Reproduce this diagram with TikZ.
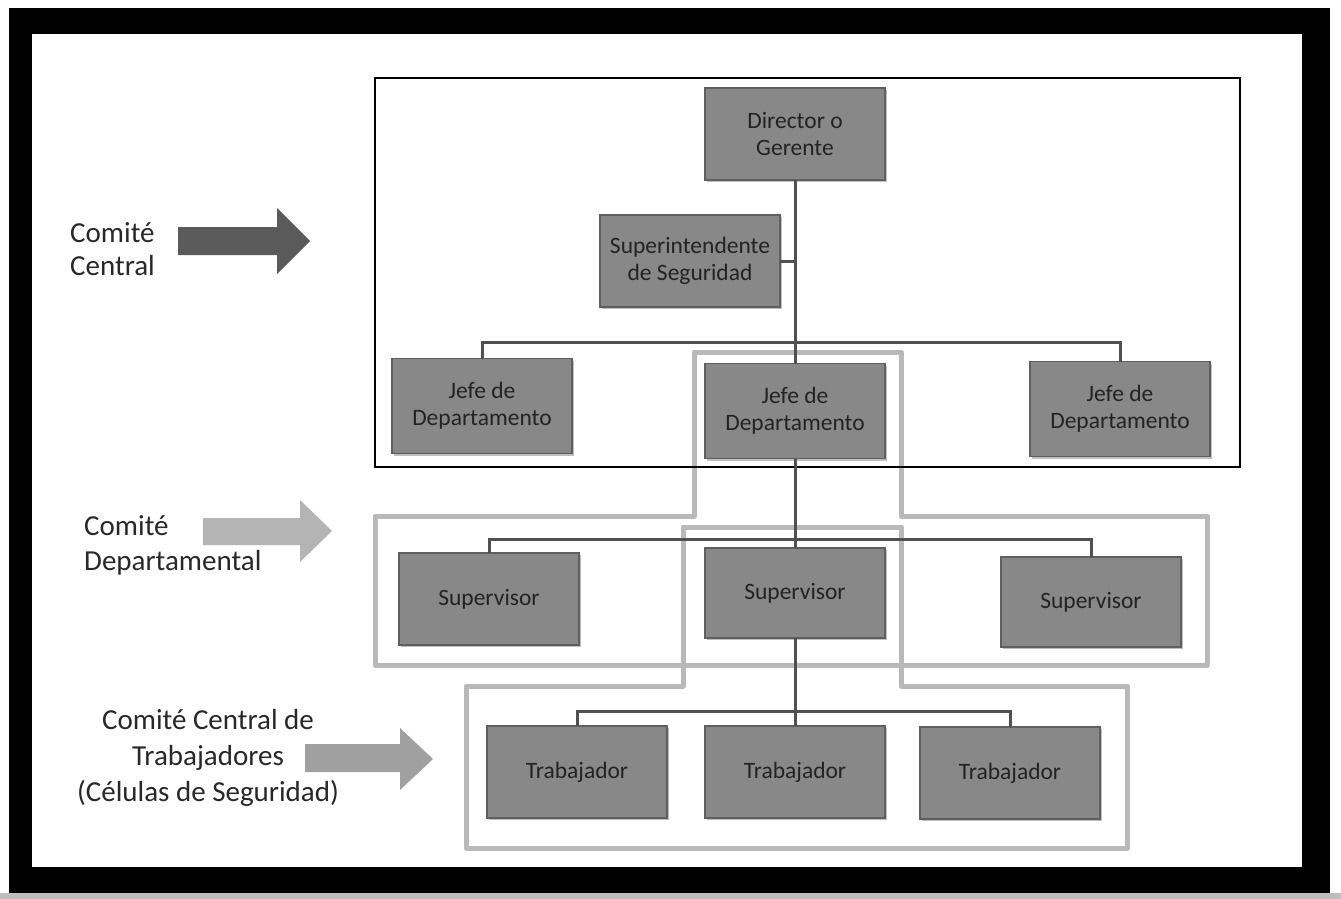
\documentclass[tikz,border=0pt]{standalone}
\usepackage{fontspec}
\setmainfont{Carlito}
\usetikzlibrary{shadows}
\definecolor{boxfill}{RGB}{136,136,136}
\definecolor{boxedge}{RGB}{95,95,95}
\definecolor{boxtext}{RGB}{35,35,35}
\definecolor{linkcol}{RGB}{80,80,80}
\definecolor{groupcol}{RGB}{185,185,185}
\definecolor{arrowA}{RGB}{90,90,90}
\definecolor{arrowB}{RGB}{180,180,180}
\definecolor{arrowC}{RGB}{160,160,160}
\definecolor{labeltext}{RGB}{40,40,40}
\definecolor{scanedge}{RGB}{190,190,190}
\begin{document}
\begin{tikzpicture}[x=1pt,y=-1pt,
  orgbox/.style={draw=boxedge, line width=1.2pt, fill=boxfill,
    minimum width=180pt, minimum height=92pt, inner sep=0pt, outer sep=0pt,
    align=center, font=\fontsize{23.5}{27}\selectfont, text=boxtext,
    drop shadow={shadow xshift=2pt, shadow yshift=-2pt, fill=black, opacity=.25}},
  link/.style={draw=linkcol, line width=3pt},
  comite/.style={draw=black, line width=2.5pt},
  grupo/.style={draw=groupcol, line width=5pt, line join=round},
  lbl/.style={text=labeltext, inner sep=0pt}]
\useasboundingbox (0,0) rectangle (1341,899);
% background and scanned frame
\fill[white] (0,0) rectangle (1341,899);
\fill[scanedge] (0,893) rectangle (1341,899);
\fill[black] (9,8) rectangle (1330,893);
\fill[white] (32,34) rectangle (1302,867);
% group outlines
\draw[grupo] (375,516) -- (694,516) -- (694,352) -- (901,352) -- (901,516)
  -- (1207,516) -- (1207,665) -- (375,665) -- cycle;
\draw[grupo] (466,686) -- (683,686) -- (683,527) -- (901,527) -- (901,686)
  -- (1127,686) -- (1127,848) -- (466,848) -- cycle;
% comite central box
\draw[comite] (375,78) rectangle (1240,467);
% boxes
\node[orgbox] (dir) at (795,134) {Director o\\Gerente};
\node[orgbox] (sup) at (690,261) {Superintendente\\de Seguridad};
\node[orgbox, minimum height=95pt] (jefe1) at (482,406) {Jefe de\\Departamento};
\node[orgbox, minimum height=95pt] (jefe2) at (795,411) {Jefe de\\Departamento};
\node[orgbox, minimum height=95pt] (jefe3) at (1120,409) {Jefe de\\Departamento};
\node[orgbox] (supv1) at (489,599) {Supervisor};
\node[orgbox, minimum height=90pt] (supv2) at (795,593) {Supervisor};
\node[orgbox, minimum height=90pt] (supv3) at (1091,602) {Supervisor};
\node[orgbox] (trab1) at (577,772) {Trabajador};
\node[orgbox] (trab2) at (795,772) {Trabajador};
\node[orgbox] (trab3) at (1010,773) {Trabajador};
% connectors
\coordinate (c1) at (795,342);
\coordinate (c2) at (795,539);
\coordinate (c3) at (795,711);
\draw[link] (dir.south) -- (jefe2.north);
\draw[link] (sup.east) -- (sup.east -| dir.south);
\draw[link] (jefe1.north) |- (c1) -| (jefe3.north);
\draw[link] (jefe2.south) -- (supv2.north);
\draw[link] (supv1.north) |- (c2) -| (supv3.north);
\draw[link] (supv2.south) -- (trab2.north);
\draw[link] (trab1.north) |- (c3) -| (trab3.north);
% left arrows
\fill[arrowA] (178,227) -- (277,227) -- (277,208) -- (310,241) -- (277,274)
  -- (277,255) -- (178,255) -- cycle;
\fill[arrowB] (203,518) -- (300,518) -- (300,500) -- (332,531) -- (300,562)
  -- (300,545) -- (203,545) -- cycle;
\fill[arrowC] (305,744) -- (400,744) -- (400,728) -- (433,759) -- (400,790)
  -- (400,772) -- (305,772) -- cycle;
% labels
\node[lbl, anchor=west, align=left, font=\fontsize{29}{33}\selectfont] (l1) at (70,249) {Comité\\Central};
\node[lbl, anchor=west, align=left, font=\fontsize{29}{35}\selectfont] (l2) at (84,545) {Comité\\Departamental};
\node[lbl, align=center, font=\fontsize{29}{36}\selectfont] (l3) at (208,758)
  {Comité Central de\\Trabajadores\\(Células de Seguridad)};
\end{tikzpicture}
\end{document}
